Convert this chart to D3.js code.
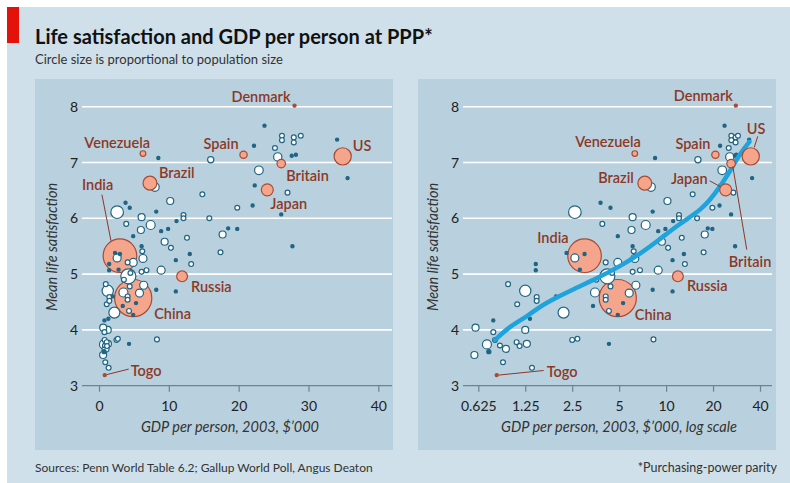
<!DOCTYPE html>
<html><head><meta charset="utf-8">
<script src="https://cdn.jsdelivr.net/npm/d3@7"></script>
<style>
body{margin:0;background:#fff;}
svg{display:block;font-family:Lato,"Noto Sans",sans-serif;}
</style></head><body>
<svg id="chart" width="790" height="483"></svg>
<script>
// ---------- DATA ----------
// ordinary countries: GDP per person 2003 ($'000 PPP), mean life satisfaction, population (m)
const gdp = [23.7,26.2,26.2,27.9,27.9,28.9,34.1,22.2,25.2,25.6,27.6,28.2,35.6,8.5,16.0,22.9,22.3,27.0,8.0,14.8,
  10.2,3.8,4.4,2.6,8.2,19.8,22.0,26.1,12.1,12.1,6.1,15.8,3.9,7.4,6.0,8.9,9.9,11.1,18.5,19.8,
  17.7,4.9,9.4,10.3,12.6,17.4,27.7,13.0,11.0,13.2,6.1,6.2,6.3,4.9,4.1,2.6,2.3,3.0,2.8,1.46,
  1.46,6.1,6.8,8.9,4.2,4.5,3.57,6.4,5.8,8.2,11.0,5.3,4.9,3.5,4.4,4.1,4.1,3.4,4.3,0.97,
  1.25,1.11,1.48,1.48,1.97,1.34,2.2,1.25,0.60,0.78,0.78,0.80,0.71,0.73,0.86,0.94,0.59,0.90,1.10,1.15,
  1.28,1.38,2.5,2.7,4.3,8.3];
const sat = [7.66,7.48,7.40,7.45,7.36,7.48,7.41,7.30,7.26,7.10,7.12,7.14,6.72,7.08,7.05,6.86,6.59,6.46,6.56,6.43,
  6.31,6.28,6.19,6.11,6.12,6.19,6.23,6.07,6.06,6.00,6.02,6.00,5.90,5.88,5.79,5.77,5.81,5.95,5.82,5.81,
  5.71,5.68,5.58,5.47,5.65,5.39,5.50,5.36,5.25,5.18,5.50,5.41,5.28,5.21,5.21,5.29,5.38,5.36,5.08,5.18,
  5.07,5.04,5.07,5.07,4.96,5.02,4.90,4.80,4.66,4.72,4.69,4.48,4.27,4.67,4.78,4.60,4.54,4.43,4.34,4.82,
  4.70,4.46,4.59,4.52,4.60,4.20,4.31,4.00,4.04,4.17,3.96,3.82,3.74,3.61,3.72,3.66,3.55,3.42,3.78,3.71,
  3.75,3.32,3.82,3.84,3.75,3.83];
const pop = [6,22,22,22,22,22,6,6,22,65,6,6,6,6,36,70,6,22,70,22,
  46,6,6,150,6,22,6,6,22,22,46,22,22,76,46,6,6,6,6,6,
  46,6,46,22,22,22,10,6,6,22,6,22,60,60,22,60,6,6,6,6,
  6,22,22,60,212,22,22,60,60,6,6,6,6,76,22,22,22,6,22,22,
  120,22,22,22,6,6,114,46,46,6,22,22,76,16,22,46,46,22,22,22,
  46,22,22,22,6,22];

// highlighted countries
const hlName = ["Denmark","Venezuela","Spain","US","Brazil","Britain","Japan","India","Russia","China","Togo"];
const hlGdp  = [28.0,6.3,20.7,34.9,7.3,26.1,24.1,3.0,11.9,4.9,0.82];
const hlSat  = [8.02,7.16,7.14,7.11,6.63,6.98,6.51,5.33,4.96,4.57,3.19];
const hlPop  = [5.4,30,50,280,180,68,135,1060,110,1300,5];

// fitted curve (log panel)
const fitGdp = [0.8,1.0,1.3,1.55,1.98,2.5,3.6,5.3,7.0,8.8,12.0,17.0,20.5,25.1,29.1,34.2];
const fitSat = [3.82,4.07,4.25,4.42,4.58,4.72,4.92,5.17,5.39,5.59,5.89,6.16,6.43,6.79,7.12,7.37];

// axes
const yTicks = [3,4,5,6,7,8];
const linTicks = [0,10,20,30,40];
const logTicks = [0.625,1.25,2.5,5,10,20,40];
const logTickLabels = ["0.625","1.25","2.5","5","10","20","40"];

// ---------- STYLE ----------
const C = {outer:"#cfe0ea", panel:"#b9d0de", grid:"#ffffff", axis:"#6f8290", dot:"#1f6584",
  hlFill:"#f4a58c", hlStroke:"#a94a34", label:"#8c3826", text:"#222", red:"#e3120b", curve:"#1ea3dd"};

const svg = d3.select("#chart");
svg.append("rect").attr("x",7).attr("y",7).attr("width",783).attr("height",476).attr("fill",C.outer);
svg.append("rect").attr("x",7).attr("y",7).attr("width",12).attr("height",36).attr("fill",C.red);
svg.append("text").attr("x",35).attr("y",44).attr("font-size",20).attr("font-weight",700).attr("fill","#111")
  .text("Life satisfaction and GDP per person at PPP*");
svg.append("text").attr("x",35).attr("y",64).attr("font-size",13).attr("fill","#333")
  .text("Circle size is proportional to population size");
svg.append("text").attr("x",35).attr("y",472).attr("font-size",12).attr("fill","#333")
  .text("Sources: Penn World Table 6.2; Gallup World Poll, Angus Deaton");
svg.append("text").attr("x",777).attr("y",472).attr("font-size",12.5).attr("fill","#333").attr("text-anchor","end")
  .text("*Purchasing-power parity");

const rScale = d3.scaleSqrt().domain([0,1300]).range([0,18.6]);
const rad = p => Math.max(1.6, rScale(p));

const points = gdp.map((g,i)=>({g, s:sat[i], p:pop[i], hl:false}));
const hls = hlName.map((n,i)=>({name:n, g:hlGdp[i], s:hlSat[i], p:hlPop[i], hl:true}));

function panel(cfg){
  const g = svg.append("g");
  g.append("rect").attr("x",cfg.px0).attr("y",79).attr("width",cfg.px1-cfg.px0).attr("height",371).attr("fill",C.panel);
  const x = cfg.x, y = d3.scaleLinear().domain([3,8]).range([385.7,106.7]);
  g.selectAll(".grid").data(yTicks.filter(t=>t>3)).join("line")
    .attr("x1",cfg.gx0).attr("x2",cfg.gx1).attr("y1",d=>y(d)).attr("y2",d=>y(d))
    .attr("stroke",C.grid).attr("stroke-width",1.6);
  g.append("line").attr("x1",cfg.gx0).attr("x2",cfg.gx1).attr("y1",y(3)).attr("y2",y(3))
    .attr("stroke",C.axis).attr("stroke-width",1.2);
  g.selectAll(".yl").data(yTicks).join("text")
    .attr("x",cfg.gx0-4).attr("y",d=>y(d)).attr("dy","0.36em").attr("text-anchor","end")
    .attr("font-size",14).attr("fill",C.text).text(d=>d);
  const ax = d3.axisBottom(x).tickValues(cfg.ticks).tickSize(6).tickFormat((d,i)=>cfg.tickLabels[i]);
  const axg = g.append("g").attr("transform",`translate(0,${y(3)})`).call(ax);
  axg.select(".domain").remove();
  axg.selectAll(".tick line").attr("stroke",C.axis).attr("stroke-width",1.2);
  axg.selectAll(".tick text").attr("font-size",14).attr("fill",C.text).attr("font-family","Lato,'Noto Sans',sans-serif").attr("dy","1.15em");
  g.append("text").attr("x",cfg.xtitleX).attr("y",432).attr("text-anchor","middle").attr("font-size",14.5)
    .attr("font-style","italic").attr("fill","#333").text(cfg.xtitle);
  g.append("text").attr("transform",`translate(${cfg.ytitleX},247) rotate(-90)`).attr("text-anchor","middle")
    .attr("font-size",14.5).attr("font-style","italic").attr("fill","#333").text("Mean life satisfaction");

  const all = points.concat(hls).map(d=>({...d, r:rad(d.p)}));
  const order = d => d.hl ? (d.r>10 ? 0 : 2) : 1;
  all.sort((a,b)=> order(a)-order(b) || b.r-a.r);
  const first = all.filter(d=>order(d)<2), last = all.filter(d=>order(d)===2);
  const drawC = (sel) => sel.join("circle")
    .attr("cx",d=>x(d.g)).attr("cy",d=>y(d.s)).attr("r",d=>d.r)
    .attr("fill",d=> d.hl ? (d.r<2.2 ? C.hlStroke : C.hlFill) : (d.r<2.2 ? C.dot : "#fff"))
    .attr("stroke",d=> d.hl ? C.hlStroke : C.dot).attr("stroke-width",1.2);
  drawC(g.append("g").selectAll("circle").data(first));
  if (cfg.curve){
    const line = d3.line().x(d=>x(d[0])).y(d=>y(d[1])).curve(d3.curveBasis);
    g.append("path").attr("d",line(fitGdp.map((v,i)=>[v,fitSat[i]])))
      .attr("fill","none").attr("stroke",C.curve).attr("stroke-width",4.5).attr("stroke-linecap","round");
  }
  drawC(g.append("g").selectAll("circle").data(last));

  hls.forEach(h=>{
    const a = cfg.labels[h.name]; if(!a) return;
    const cx = x(h.g), cy = y(h.s);
    if (a.lead) g.append("line").attr("x1",cx+a.lead[0]).attr("y1",cy+a.lead[1]).attr("x2",cx+a.lead[2]).attr("y2",cy+a.lead[3])
      .attr("stroke",C.label).attr("stroke-width",1);
    g.append("text").attr("x",cx+a.dx).attr("y",cy+a.dy).attr("text-anchor",a.anchor)
      .attr("font-size",14.5).attr("font-weight",600).attr("fill",C.label).text(h.name);
  });
}

panel({px0:35, px1:393, gx0:82, gx1:392,
  x: d3.scaleLinear().domain([0,40]).range([99,378.3]),
  ticks: linTicks, tickLabels: linTicks.map(String),
  xtitle:"GDP per person, 2003, $\u2019000", xtitleX:230, ytitleX:56.5,
  labels:{
    Denmark:{anchor:"end",dx:-4,dy:-4},
    Venezuela:{anchor:"end",dx:7,dy:-6},
    Spain:{anchor:"end",dx:-5,dy:-6},
    US:{anchor:"start",dx:10,dy:-5},
    Brazil:{anchor:"start",dx:9,dy:-5.5},
    Britain:{anchor:"start",dx:5,dy:17},
    Japan:{anchor:"start",dx:3,dy:19},
    India:{anchor:"start",dx:-38,dy:-66,lead:[-18,-61,-9,-15]},
    Russia:{anchor:"start",dx:9,dy:16},
    China:{anchor:"start",dx:21,dy:21},
    Togo:{anchor:"start",dx:26,dy:1,lead:[2,-0.5,24,-6]}
  }});

panel({px0:418, px1:776, gx0:463, gx1:772,
  x: d3.scaleLog().base(2).domain([0.625,40]).range([478.3,760]),
  ticks: logTicks, tickLabels: logTickLabels,
  xtitle:"GDP per person, 2003, $\u2019000, log scale", xtitleX:619, ytitleX:438, curve:true,
  labels:{
    Denmark:{anchor:"end",dx:-3,dy:-5},
    US:{anchor:"start",dx:-4,dy:-22,lead:[7,-20,3.5,-9]},
    Spain:{anchor:"end",dx:-5,dy:-6},
    Venezuela:{anchor:"end",dx:6,dy:-7},
    Brazil:{anchor:"end",dx:-11,dy:0},
    Japan:{anchor:"end",dx:-18,dy:-6,lead:[-16,-9,-5,-3]},
    Britain:{anchor:"middle",dx:19,dy:103,lead:[1.7,2.7,15.7,86]},
    India:{anchor:"end",dx:-16,dy:-13},
    Russia:{anchor:"start",dx:9,dy:15},
    China:{anchor:"start",dx:17,dy:22},
    Togo:{anchor:"start",dx:50,dy:2,lead:[2,0,47,-4.6]}
  }});
</script>
</body></html>
